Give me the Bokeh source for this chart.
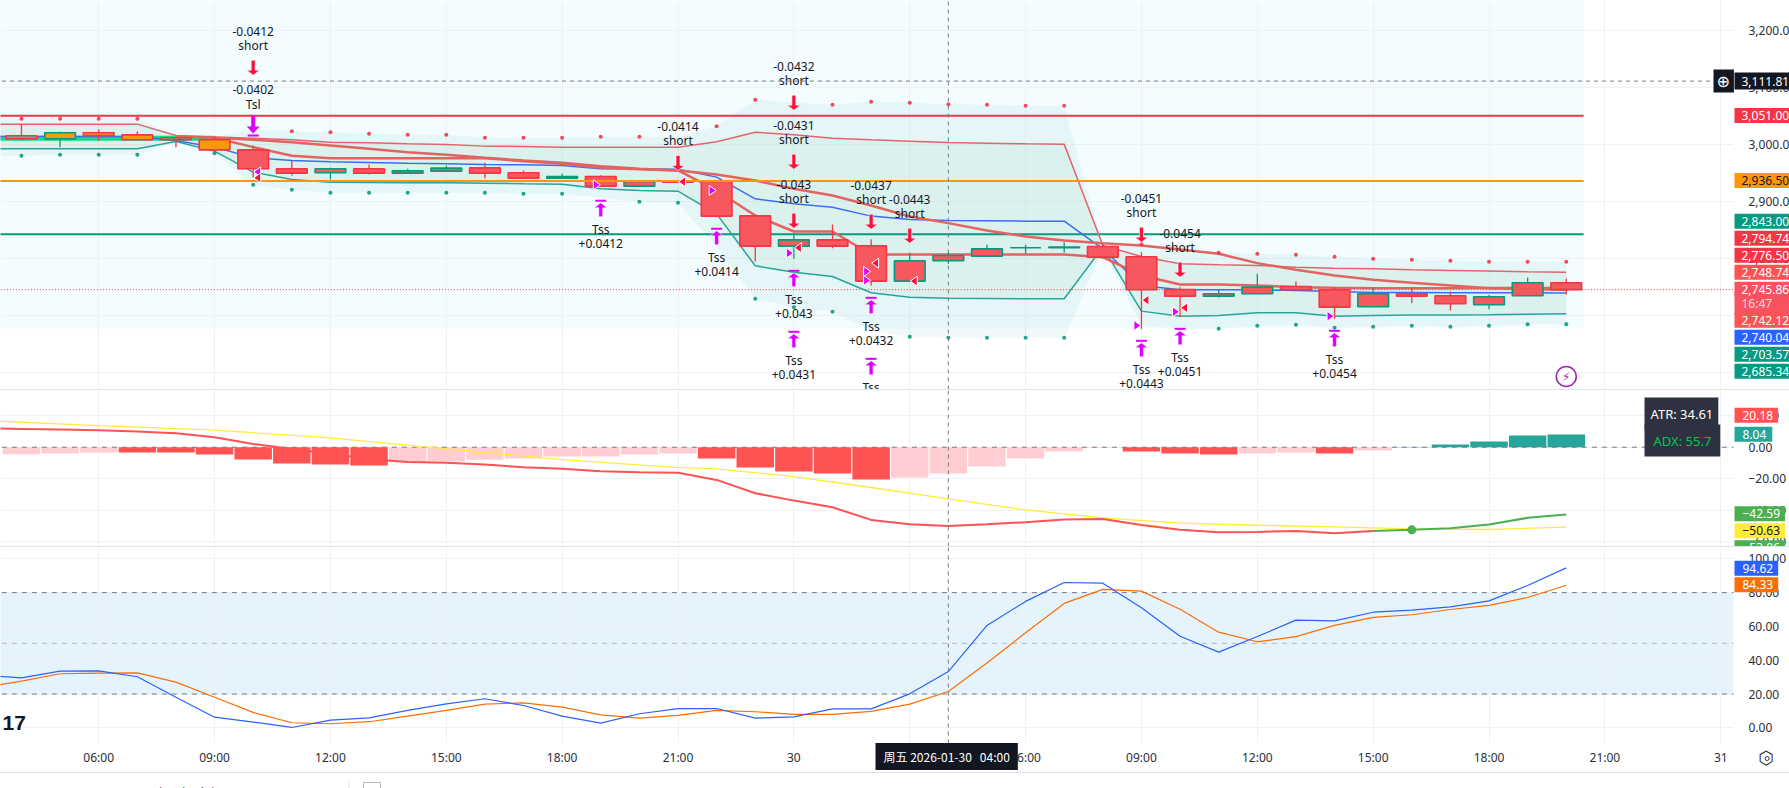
from bokeh.plotting import figure
from bokeh.models import (Range1d, FixedTicker, NumeralTickFormatter, Label, BoxAnnotation, Div, ColumnDataSource)
from bokeh.layouts import column
from bokeh.core.properties import value
from bokeh.embed import file_html
from bokeh.resources import INLINE

nan = float("nan")
FONT = "Noto Sans"

# ---------- data ----------
hours = list(range(3, 45))
band_mid_up = [3036.3,3036.3,3036.3,3036.3,3036.3,3016.4,3013.5,3011.7,3008.8,3004.7,3003.5,3001.8,3000.6,2997.7,2997.1,2995.9,2995.9,2995.9,2995.9,3005.3,3022.2,3017.5,3011.7,3008.8,3006.4,3004.1,3002.9,3001.8,3001.2,2823.4,2804.1,2791.2,2789.5,2788.3,2785.4,2783.6,2782.5,2780.7,2779.5,2778.4,2777.2,2776.5]
band_mid_low = [2993.0,2993.0,2993.0,2993.0,2993.0,3005.8,2988.9,2952.0,2939.2,2934.5,2933.9,2933.3,2933.3,2932.7,2931.6,2931.0,2922.8,2919.9,2918.7,2878.9,2787.7,2776.6,2769.0,2740.4,2732.7,2731.0,2730.4,2729.8,2729.8,2820.5,2708.2,2699.4,2700.6,2705.3,2705.3,2699.4,2700.6,2701.2,2701.2,2701.8,2702.9,2703.57]
basis = [3014.6,3014.6,3014.6,3014.6,3014.6,3007.6,2995.9,2977.2,2972.5,2970.2,2969.0,2967.8,2966.7,2965.5,2964.9,2963.7,2957.9,2957.9,2957.3,2943.3,2905.3,2896.5,2890.6,2874.9,2869.0,2867.3,2866.7,2866.1,2866.1,2817.5,2753.2,2745.6,2745.6,2745.6,2744.4,2742.7,2740.9,2740.9,2740.4,2740.4,2740.4,2740.04]
band_out_up = [3045.6,3045.6,3045.6,3045.6,3045.6,3016.4,3013.5,3026.3,3024.0,3022.2,3019.3,3017.5,3017.5,3012.3,3012.3,3012.3,3014.0,3014.0,3014.0,3032.7,3078.9,3074.3,3070.2,3075.4,3073.7,3071.3,3070.2,3068.4,3068.4,2821.6,2825.7,2817.5,2810.5,2808.8,2807.0,2803.5,2800.0,2798.2,2796.5,2794.7,2794.7,2794.74]
band_out_low = [2980.7,2980.7,2982.5,2982.5,2982.5,3004.7,2985.4,2929.8,2921.1,2915.8,2915.8,2915.8,2915.8,2915.8,2914.0,2914.0,2907.0,2900.0,2898.2,2820.5,2729.8,2715.2,2707.0,2674.3,2663.2,2661.4,2661.4,2661.4,2661.4,2817.5,2683.0,2677.2,2677.2,2682.5,2684.2,2678.9,2680.7,2682.5,2680.7,2682.5,2685.34,2685.34]
dots_up = [nan,3045.6,3045.6,3045.6,3045.6,nan,nan,nan,3024.0,3022.2,3019.3,3017.5,3017.5,3012.3,3012.3,3012.3,3014.0,3014.0,nan,3032.7,3078.9,nan,3070.2,3075.4,3073.7,3071.3,3070.2,3068.4,3068.4,nan,2825.7,nan,2810.5,2808.8,2807.0,2803.5,2800.0,2798.2,2796.5,2794.7,2794.7,2794.74]
dots_low = [nan,2980.7,2982.5,2982.5,2982.5,nan,2985.4,2929.8,2921.1,2915.8,2915.8,2915.8,2915.8,2915.8,2914.0,2914.0,nan,2900.0,2898.2,nan,2729.8,2715.2,2707.0,nan,2663.2,2661.4,2661.4,2661.4,2661.4,nan,nan,nan,2677.2,2682.5,2684.2,2678.9,2680.7,2682.5,2680.7,2682.5,2685.34,2685.34]

fast_hours = list(range(9, 45))
fast = [3012.3,2995.9,2980.7,2976.6,2976.6,2976.6,2976.6,2976.6,2971.3,2966.7,2959.6,2957.3,2955.0,2919.9,2876.0,2847.9,2847.9,2807.6,2807.6,2807.6,2807.6,2807.6,2807.6,2802.9,2770.8,2755.0,2755.0,2753.2,2750.3,2749.1,2748.5,2748.5,2748.5,2748.6,2748.7,2748.74]
slow_hours = list(range(8, 45))
slow = [3014.6,3012.3,3008.8,3004.7,2998.8,2993.0,2987.1,2982.5,2977.2,2972.5,2968.4,2962.6,2957.9,2955.0,2948.0,2937.4,2922.8,2911.1,2893.6,2874.3,2862.6,2849.7,2839.2,2832.2,2827.5,2823.4,2816.4,2808.8,2792.4,2780.7,2770.8,2763.2,2757.9,2753.2,2748.5,2746.8,2745.6]
green_hours = [3, 9]
green_line = [3011.7, 3011.7]

candle_hours = list(range(4, 45))
opens = [3015.8,3010.5,3021.1,3017.5,3012.3,3008.8,2991.2,2957.9,2950.9,2957.9,2950.3,2953.8,2959.6,2950.9,2941.5,2944.4,2927.5,2935.7,2935.7,2875.4,2822.2,2833.3,2822.8,2760.8,2796.5,2804.7,2819.3,2819.3,2821.6,2803.5,2746.2,2734.5,2738.6,2751.5,2745.6,2715.8,2738.6,2735.1,2719.3,2735.1,2757.9]
highs = [3036.8,3023.4,3026.9,3023.4,3013.5,3014.6,2998.8,2972.5,2959.6,2965.5,2957.9,2963.7,2968.4,2955.0,2949.7,2946.8,2935.7,2937.4,2935.7,2877.2,2843.9,2860.2,2834.5,2810.5,2811.7,2824.6,2824.6,2828.7,2826.3,2811.7,2750.3,2745.6,2773.7,2760.2,2750.3,2749.1,2749.1,2742.7,2736.3,2767.3,2765.5]
lows = [3007.6,2995.9,3007.6,3008.8,2995.9,2987.1,2943.3,2946.2,2939.2,2948.0,2950.3,2953.8,2941.5,2941.5,2941.5,2927.5,2925.7,2933.9,2873.1,2795.3,2800.0,2818.7,2753.2,2760.8,2791.2,2804.7,2808.8,2811.1,2800.0,2677.2,2697.7,2732.2,2738.6,2745.6,2694.7,2715.8,2722.2,2709.4,2711.7,2735.1,2737.4]
closes = [3010.5,3021.1,3016.4,3008.8,3008.8,2991.2,2957.9,2950.3,2957.9,2950.3,2954.4,2959.1,2950.3,2941.5,2944.4,2927.5,2935.7,2934.5,2874.9,2822.2,2833.3,2822.2,2760.8,2796.5,2805.8,2817.5,2819.3,2820.5,2802.9,2745.6,2734.5,2738.6,2750.3,2745.6,2715.2,2738.6,2734.5,2721.1,2733.3,2757.9,2745.86]
candle_fill = ["#17d98a","#f59b0b","#f59b0b","#f59b0b","#17d98a","#f59b0b"] + ["#f6585d"]*35
candle_fill[14] = "#089981"

short_hours = [10, 21, 24, 24, 24, 26, 27, 33, 34]
short_price = [3122.2, 2955.0, 3060.8, 2957.3, 2853.8, 2852.0, 2827.5, 2829.2, 2767.8]
short_text = ["-0.0412", "-0.0414", "-0.0432", "-0.0431", "-0.043", "-0.0437", "-0.0443", "-0.0451", "-0.0454"]
tsl_hours = [10]
tsl_price = [3014.6]
tsl_text = ["-0.0402"]
tss_hours = [19, 22, 24, 24, 26, 26, 33, 34, 38]
tss_price = [2903.5, 2854.4, 2780.7, 2673.7, 2733.3, 2626.3, 2657.9, 2678.9, 2675.4]
tss_text = ["+0.0412", "+0.0414", "+0.043", "+0.0431", "+0.0432", "", "+0.0443", "+0.0451", "+0.0454"]
red_tri_hours = [10, 21, 24, 26, 27, 33, 34]
red_tri_price = [2942.1, 2935.1, 2819.3, 2792.4, 2760.8, 2727.5, 2714.0]
mag_left_hours = [10]
mag_left_price = [2952.6]
mag_right_hours = [19, 22, 24, 26, 26, 33, 34, 38]
mag_right_price = [2929.8, 2919.9, 2810.0, 2777.8, 2762.0, 2683.0, 2707.0, 2699.4]

levels = [3051.0, 2936.5, 2843.0]
box_top, box_bottom, box_end = 3253.2, 2677.7, 44.45
cross_hour, cross_price, last_price = 28, 3111.81, 2745.86

hist_hours = list(range(4, 45))
hist = [-4.4,-4.0,-3.4,-3.4,-3.4,-4.6,-7.8,-10.3,-11.0,-11.6,-9.5,-9.1,-8.0,-7.2,-5.9,-5.9,-4.6,-4.0,-7.2,-12.9,-15.4,-16.7,-20.5,-19.2,-16.7,-12.2,-7.2,-2.7,-0.4,-2.7,-4.0,-4.6,-4.0,-3.4,-4.0,-2.1,0.2,1.7,3.6,7.4,8.04]
hist_color = ["#ffcdd2"]*3 + ["#ff5252"]*7 + ["#ffcdd2"]*8 + ["#ff5252"]*5 + ["#ffcdd2"]*6 + ["#ff5252"]*3 + ["#ffcdd2"]*2 + ["#ff5252"] + ["#ffcdd2"] + ["#26a69a"]*5
macd_hours = list(range(3, 40))
macd = [12.0,11.6,11.2,10.8,10.0,8.9,6.3,2.1,-1.1,-4.2,-7.4,-9.3,-9.9,-11.0,-12.7,-13.7,-15.2,-15.8,-16.2,-20.7,-29.1,-33.8,-38.0,-46.0,-48.7,-49.8,-48.7,-47.5,-45.8,-45.4,-49.2,-52.3,-53.8,-53.6,-53.0,-54.4,-53.0]
macd_up_hours = [39, 40, 41, 42, 43, 44]
macd_up = [-53.0, -52.3, -51.3, -48.9, -44.7, -42.59]
signal_hours = [3, 6, 9, 12, 15, 18, 21, 22, 24, 26, 28, 30, 32, 34, 36, 38, 40, 42, 44]
signal = [16.9, 13.7, 10.8, 5.9, -1.1, -7.8, -12.9, -13.7, -18.6, -25.5, -32.7, -39.7, -44.7, -48.1, -49.4, -50.4, -51.7, -52.1, -50.63]
cross_dot = (40, -52.3)

stoch_hours = list(range(3, 45))
stoch_k = [31.0,29.6,33.5,33.7,30.2,18.1,6.3,3.4,0.2,4.5,5.9,10.3,14.2,17.2,13.2,6.9,2.8,8.3,11.4,11.4,5.7,6.5,11.2,11.2,20.1,33.3,60.6,74.8,86.0,85.6,71.0,54.2,44.8,54.0,63.7,63.3,68.4,69.6,71.6,75.1,84.2,94.62]
stoch_d = [24.0,27.6,32.0,32.3,32.5,27.0,18.1,9.1,3.0,2.4,3.6,6.9,10.3,14.0,14.8,12.2,7.7,5.7,7.3,10.3,9.5,7.9,7.9,9.7,14.0,21.5,38.3,56.2,73.6,81.9,80.9,70.2,56.6,50.9,54.0,60.6,65.3,66.9,70.0,72.4,77.1,84.33]

price_ticks = [2600, 2700, 2800, 2900, 3000, 3100, 3200]
macd_ticks = [20, 0, -20, -40, -60]
macd_labels = ["20.00", "0.00", "\u221220.00", "\u221240.00", "\u221260.00"]
stoch_ticks = [0, 20, 40, 60, 80, 100]
time_ticks = [6, 9, 12, 15, 18, 21, 24, 27, 30, 33, 36, 39, 42, 45, 48]
time_labels = ["06:00", "09:00", "12:00", "15:00", "18:00", "21:00", "30", "03:00", "06:00", "09:00", "12:00", "15:00", "18:00", "21:00", "31"]

# ---------- scales ----------
PX_HOUR = 38.62
PX_PRICE = 0.57
T0 = 3.457
T_AXIS = T0 + 1733 / PX_HOUR      # where the price axis strip begins
T_END = T0 + 1789 / PX_HOUR
x_range = Range1d(T0, T_END)
TXT = "#2a2e39"
GRID = "#eef1f5"
DASH = "#787b86"


def pane(height, y0, y1, ticks, xaxis=False):
    p = figure(width=1789, height=height, frame_width=1789, frame_height=height,
               x_range=x_range, y_range=Range1d(y0, y1),
               y_axis_location="right", x_axis_location="below" if xaxis else None,
               toolbar_location=None, output_backend="svg", tools="",
               min_border=0, background_fill_color="white", border_fill_color="white", outline_line_color=None)
    p.yaxis.ticker = FixedTicker(ticks=ticks)
    p.yaxis.axis_line_color = None
    p.yaxis.major_tick_line_color = None
    p.yaxis.minor_tick_line_color = None
    p.yaxis.major_label_standoff = -47
    p.yaxis.major_label_text_font = FONT
    p.yaxis.major_label_text_font_size = "12px"
    p.yaxis.major_label_text_color = TXT
    p.ygrid.ticker = FixedTicker(ticks=ticks)
    p.ygrid.grid_line_color = GRID
    p.xgrid.ticker = FixedTicker(ticks=time_ticks)
    p.xgrid.grid_line_color = GRID
    # blank strip where the price scale sits, over the grid lines
    p.quad(left=[T_AXIS], right=[T_END + 1], top=[y1], bottom=[y0], fill_color="white", line_color=None)
    return p


def tag(p, pane_top, text, cy, color, fg="white", pr=9, left=1734, pl=7, pv=3, font=FONT, size="12px"):
    p.add_layout(Label(x=left, y=cy - pane_top, x_units="canvas", y_units="canvas", text=text,
                       text_color=fg, text_font=font, text_font_size=size, text_baseline="middle",
                       text_align="left", level="overlay",
                       background_fill_color=color, background_fill_alpha=1, padding=(pl, pr, pv, pv)))


def hline(p, v, color, width=1, dash="solid", x1=T_AXIS):
    p.segment(x0=[T0 - 1], x1=[x1], y0=[v], y1=[v], line_color=color, line_width=width, line_dash=dash)


def cross(p, y0, y1):
    p.segment(x0=[cross_hour], x1=[cross_hour], y0=[y0], y1=[y1], line_color=DASH, line_width=1, line_dash="4 4")


def shape(ts, ps, pts, dx=0):
    xs, ys = [], []
    for t, v in zip(ts, ps):
        xs.append([t + (dx + a) / PX_HOUR for a, b in pts])
        ys.append([v - b / PX_PRICE for a, b in pts])
    return xs, ys


# ---------- price pane ----------
P_LO, P_HI = 2570.7, 3253.2
p1 = pane(389, P_LO, P_HI, price_ticks)
p1.yaxis.formatter = NumeralTickFormatter(format="0,0.00")
p1.quad(left=[T0 - 1], right=[box_end], top=[box_top], bottom=[box_bottom], fill_color="#f3fcfe", line_color=None, level="image")
p1.varea(x=hours, y1=band_out_low, y2=band_out_up, fill_color="#089981", fill_alpha=0.06)
p1.varea(x=hours, y1=band_mid_low, y2=band_mid_up, fill_color="#4caf50", fill_alpha=0.06)
hline(p1, levels[2], "#089981", 2, x1=box_end)
hline(p1, levels[0], "#f23645", 2, x1=box_end)
hline(p1, last_price, "#f23645", 1, "1 2")
p1.line(green_hours, green_line, line_color="#17d98a", line_width=5)
p1.line(hours, basis, line_color="#3b6ef5", line_width=1.5)
p1.line(hours, band_mid_up, line_color="#e5636d", line_width=1.5)
p1.line(hours, band_mid_low, line_color="#26a69a", line_width=1.5)
p1.line(slow_hours, slow, line_color="#e2635f", line_width=2.5)
p1.line(fast_hours, fast, line_color="#e2635f", line_width=2.5)

up = [c >= o for o, c in zip(opens, closes)]
edge = ["#089981" if u else "#f23645" for u in up]
cds = ColumnDataSource(dict(t=candle_hours, h=highs, l=lows,
                            top=[max(o, c) for o, c in zip(opens, closes)],
                            bot=[min(o, c) for o, c in zip(opens, closes)],
                            fill=candle_fill, edge=edge))
p1.segment("t", "h", "t", "l", source=cds, line_color="edge", line_width=1.3)
p1.vbar(x="t", top="top", bottom="bot", width=0.795, source=cds, fill_color="fill", line_color="edge", line_width=1.6)
hline(p1, levels[1], "#ff9800", 2, x1=box_end)
p1.scatter(hours, dots_up, size=4, fill_color="#f23645", line_color=None, fill_alpha=0.9)
p1.scatter(hours, dots_low, size=4, fill_color="#089981", line_color=None, fill_alpha=0.9)

RED = "#f7123f"
MAG = "#e000ff"
down_arrow = [(-2, -15), (2, -15), (2, -5), (6.5, -5), (0, 0), (-6.5, -5), (-2, -5)]
xs, ys = shape(short_hours, short_price, down_arrow)
p1.patches(xs, ys, fill_color=RED, line_color="white", line_width=0.6)
tsl_arrow = [(-2, -21), (2, -21), (2, -10), (6.5, -10), (0, -3), (-6.5, -10), (-2, -10)]
xs, ys = shape(tsl_hours, tsl_price, tsl_arrow)
p1.patches(xs, ys, fill_color=MAG, line_color=None)
bar = [(-5.5, -2), (5.5, -2), (5.5, 0), (-5.5, 0)]
xs, ys = shape(tsl_hours, tsl_price, bar)
p1.patches(xs, ys, fill_color=MAG, line_color=None)
up_arrow = [(-2, 17), (2, 17), (2, 8), (6.5, 8), (0, 3), (-6.5, 8), (-2, 8)]
xs, ys = shape(tss_hours, tss_price, up_arrow)
p1.patches(xs, ys, fill_color=MAG, line_color="white", line_width=0.6)
bar2 = [(-5.5, 0), (5.5, 0), (5.5, 2), (-5.5, 2)]
xs, ys = shape(tss_hours, tss_price, bar2)
p1.patches(xs, ys, fill_color=MAG, line_color=None)
left_tri = [(-3.5, 0), (3.5, -5), (3.5, 5)]
right_tri = [(3.5, 0), (-3.5, -5), (-3.5, 5)]
xs, ys = shape(mag_left_hours, mag_left_price, left_tri, dx=4)
p1.patches(xs, ys, fill_color=MAG, line_color="white", line_width=1)
xs, ys = shape(red_tri_hours, red_tri_price, left_tri, dx=4)
p1.patches(xs, ys, fill_color=RED, line_color="white", line_width=1)
xs, ys = shape(mag_right_hours, mag_right_price, right_tri, dx=-4)
p1.patches(xs, ys, fill_color=MAG, line_color="white", line_width=1)


def texts(ts, ps, tx, off):
    p1.text(ts, ps, text=tx, y_offset=off, text_align="center", text_baseline="middle",
            text_font=value("Noto Sans"), text_font_size=value("12px"), text_color="#131722")


texts(short_hours, short_price, short_text, -44)
texts(short_hours, short_price, ["short"] * len(short_hours), -29.7)
texts(tsl_hours, tsl_price, tsl_text, -46.7)
texts(tsl_hours, tsl_price, ["Tsl"], -32.3)
texts(tss_hours, tss_price, ["Tss"] * len(tss_hours), 29.7)
texts(tss_hours, tss_price, tss_text, 43.5)
p1.scatter([44], [2593.5], size=20, fill_color="white", line_color="#9c27b0", line_width=1.5)
p1.text([44], [2593.5], text=["\u26a1"], text_align="center", text_baseline="middle",
        text_font=value("DejaVu Sans"), text_font_size=value("12px"), text_color="#9c27b0")
cross(p1, P_LO, P_HI)
hline(p1, cross_price, DASH, 1, "4 4")

tag(p1, 0, "3,051.00", 115, "#f23645")
tag(p1, 0, "2,936.50", 180, "#ff9800", fg="#131722")
tag(p1, 0, "2,843.00", 220.7, "#089981")
tag(p1, 0, "2,794.74", 237.7, "#f23645")
tag(p1, 0, "2,776.50", 254.7, "#f23645")
tag(p1, 0, "2,748.74", 271.7, "#ff5252")
tag(p1, 0, "16:47", 302.7, "#f7525f", fg="#ffd7da", pr=28)
tag(p1, 0, "2,745.86", 288.7, "#f7525f")
tag(p1, 0, "2,742.12", 319.7, "#ff5252")
tag(p1, 0, "2,740.04", 336.7, "#2962ff")
tag(p1, 0, "2,703.57", 353.7, "#089981")
tag(p1, 0, "2,685.34", 370.7, "#089981")
tag(p1, 0, "3,111.81", 80.6, "#131722", pv=4)
tag(p1, 0, "\u2295", 80.6, "#131722", left=1713, pl=3, pr=4, pv=2, font="DejaVu Sans", size="16px")

# ---------- MACD pane ----------
M_LO, M_HI = -62.85, 35.9
p2 = pane(156, M_LO, M_HI, macd_ticks)
p2.yaxis.major_label_overrides = dict(zip(macd_ticks, macd_labels))
p2.vbar(x=hist_hours, top=[max(v, 0) for v in hist], bottom=[min(v, 0) for v in hist], width=0.97, fill_color=hist_color, line_color=None)
hline(p2, 0, DASH, 1, "5 5")
p2.line(signal_hours, signal, line_color="#ffeb3b", line_width=1.3)
p2.line(macd_hours, macd, line_color="#ff5252", line_width=2)
p2.line(macd_up_hours, macd_up, line_color="#4caf50", line_width=2)
p2.scatter([cross_dot[0]], [cross_dot[1]], size=9, fill_color="#4caf50", line_color=None)
cross(p2, M_LO, M_HI)
tag(p2, 390, "20.18", 414.7, "#ff5252", pl=8, pr=5)
tag(p2, 390, "8.04", 433.7, "#26a69a", pl=8, pr=6)
tag(p2, 390, "\u221242.59", 513.3, "#4caf50", pl=8, pr=5)
tag(p2, 390, "\u221250.63", 530.3, "#ffeb3b", fg="#131722", pl=8, pr=5)
tag(p2, 390, "\u221253.06", 547.3, "#4caf50", pl=8, pr=5)
tag(p2, 390, "ATR: 34.61", 413, "#2e3240", left=1644, pl=6, pr=5, pv=7, size="13px")
tag(p2, 390, "ADX: 55.7", 440, "#2e3240", fg="#00c853", left=1644, pl=9, pr=9, pv=7, size="13px")

# ---------- Stochastic pane, its frame running down through the time-axis strip ----------
S_LO, S_HI, S_FRAME_LO = -9.3, 106.7, -26.45
p3 = pane(225, S_FRAME_LO, S_HI, stoch_ticks, xaxis=True)
p3.yaxis.formatter = NumeralTickFormatter(format="0.00")
p3.xaxis.ticker = FixedTicker(ticks=time_ticks)
p3.xaxis.major_label_overrides = dict(zip(time_ticks, time_labels))
p3.xaxis.axis_line_color = None
p3.xaxis.major_tick_line_color = None
p3.xaxis.minor_tick_line_color = None
p3.xaxis.major_label_standoff = -30
p3.xaxis.major_label_text_font = FONT
p3.xaxis.major_label_text_font_size = "12px"
p3.xaxis.major_label_text_color = TXT
p3.quad(left=[T0 - 1], right=[T_END + 1], top=[S_LO], bottom=[S_FRAME_LO], fill_color="white", line_color=None)
p3.quad(left=[T0 - 1], right=[T_AXIS], top=[80], bottom=[20], fill_color="#e5f3fd", line_color=None, level="image")
hline(p3, 80, DASH, 1, "5 5")
hline(p3, 20, DASH, 1, "5 5")
hline(p3, 50, "#b2b5be", 1, "5 5")
p3.line(stoch_hours, stoch_d, line_color="#ff6d00", line_width=1.2)
p3.line(stoch_hours, stoch_k, line_color="#2962ff", line_width=1.2)
cross(p3, S_LO, S_HI)
p3.scatter([49.2], [-18.2], size=4, fill_color="white", line_color="#2a2e39", line_width=1)
tag(p3, 547, "94.62", 567.7, "#2962ff", pl=8, pr=5)
tag(p3, 547, "84.33", 584.3, "#ff6d00", pl=8, pr=5)
tag(p3, 547, "\u5468\u4e94 2026-01-30\u00a0\u00a0\u00a004:00", 756, "#131722", left=875, pl=8, pr=8, pv=5,
    font="Noto Sans CJK SC")
p3.add_layout(Label(x=2, y=722 - 547, x_units="canvas", y_units="canvas", text="17", text_font="Liberation Sans",
                    text_font_style="bold", text_font_size="21px", text_color="#131722", text_baseline="middle"))
p3.add_layout(Label(x=1758, y=757 - 547, x_units="canvas", y_units="canvas", text="\u2b21", text_font="DejaVu Sans",
                    text_font_size="18px", text_color="#2a2e39", text_baseline="middle"))

# ---------- footer ----------
p4 = figure(width=1789, height=15, frame_width=1789, frame_height=15, x_range=Range1d(0, 1), y_range=Range1d(0, 1),
            x_axis_location=None, y_axis_location=None,
            toolbar_location=None, output_backend="svg", tools="", min_border=0, outline_line_color=None)
p4.grid.visible = False
p4.add_layout(Label(x=7, y=19, x_units="canvas", y_units="canvas", text="1\u5929   5\u5929   1\u6708   3\u6708   6\u6708   YTD   1\u5e74   5\u5e74   \u5168\u90e8",
                    text_font="Noto Sans CJK SC", text_font_size="13px", text_color="#131722", text_baseline="middle"))
p4.add_layout(Label(x=1692, y=19, x_units="canvas", y_units="canvas", text="20:43:13 (UTC+8)",
                    text_font=FONT, text_font_size="13px", text_color="#131722", text_baseline="middle"))
p4.add_layout(BoxAnnotation(left=348, right=349, top=8, bottom=15, left_units="canvas", right_units="canvas",
                            top_units="canvas", bottom_units="canvas", fill_color="#e0e3eb", fill_alpha=1, line_color=None))
p4.add_layout(BoxAnnotation(left=363, right=380, top=9, bottom=20, left_units="canvas", right_units="canvas",
                            top_units="canvas", bottom_units="canvas", fill_alpha=0, line_color="#131722", line_width=1))


def sep():
    return Div(width=1789, height=1, margin=0, styles={"background-color": "#e0e3eb"})


page = column(p1, sep(), p2, sep(), p3, sep(), p4, spacing=0,
              styles={"position": "absolute", "left": "0px", "top": "0px"})
open("out.html", "w").write(file_html(page, INLINE))
